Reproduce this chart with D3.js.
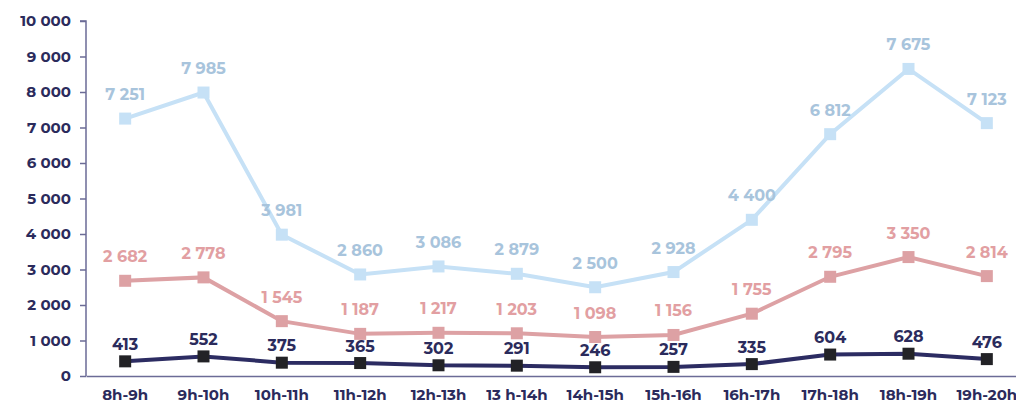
<!DOCTYPE html>
<html>
<head>
<meta charset="utf-8">
<script src="https://cdn.jsdelivr.net/npm/d3@7"></script>
<style>
  html, body { margin: 0; padding: 0; background: #fff; }
  svg text { font-family: Montserrat, "Open Sans", sans-serif; font-weight: 700; }
</style>
</head>
<body>
<div id="chart"></div>
<script>
const categories = ['8h-9h', '9h-10h', '10h-11h', '11h-12h', '12h-13h', '13 h-14h',
  '14h-15h', '15h-16h', '16h-17h', '17h-18h', '18h-19h', '19h-20h'];
const yTicks = [0, 1000, 2000, 3000, 4000, 5000, 6000, 7000, 8000, 9000, 10000];

// plotted values (the 18h-19h point sits near 8 650 while its label reads 7 675)
const lightValues = [7251, 7985, 3981, 2860, 3086, 2879, 2500, 2928, 4400, 6812, 8650, 7123];
const lightLabels = [7251, 7985, 3981, 2860, 3086, 2879, 2500, 2928, 4400, 6812, 7675, 7123];
const redValues = [2682, 2778, 1545, 1187, 1217, 1203, 1098, 1156, 1755, 2795, 3350, 2814];
const darkValues = [413, 552, 375, 365, 302, 291, 246, 257, 335, 604, 628, 476];

const width = 1016, height = 403;
const margin = { top: 21, left: 86, bottom: 27 };

const fmt = v => d3.format(',')(v).replace(/,/g, ' ');

const svg = d3.select('#chart').append('svg')
  .attr('width', width)
  .attr('height', height);

const x = d3.scaleBand()
  .domain(categories)
  .range([margin.left, 1026]);

const y = d3.scaleLinear()
  .domain([0, 10000])
  .range([height - margin.bottom, margin.top]);

const axisColor = '#6b6b96';
const navy = '#2b2b5c';

// y axis
const yAxis = svg.append('g')
  .attr('transform', `translate(${margin.left},0)`)
  .call(d3.axisLeft(y).tickValues(yTicks).tickSize(6).tickPadding(9).tickFormat(fmt));
yAxis.select('.domain').attr('stroke', axisColor).attr('stroke-width', 1.5)
  .attr('d', `M-6,${y(10000)}H0V${y(0)}`);
yAxis.selectAll('.tick line').attr('stroke', axisColor).attr('stroke-width', 1.5);
yAxis.selectAll('.tick text').attr('fill', navy).style('font-size', '15px');

// x axis
const xAxis = svg.append('g')
  .attr('transform', `translate(0,${y(0)})`)
  .call(d3.axisBottom(x).tickSize(0).tickPadding(13));
xAxis.select('.domain').attr('stroke', axisColor).attr('stroke-width', 1.5);
xAxis.selectAll('.tick text').attr('fill', navy).style('font-size', '15px');

const series = [
  { values: lightValues, labels: lightLabels, line: '#c6e1f6', marker: '#c6e1f6', text: '#a8c4dc', dy: -24 },
  { values: redValues, labels: redValues, line: '#dda1a4', marker: '#dda1a4', text: '#e29fa2', dy: -24 },
  { values: darkValues, labels: darkValues, line: '#2c2c62', marker: '#222226', text: '#2b2b5c', dy: -17 }
];

const cx = d => x(d.cat) + x.bandwidth() / 2;

series.forEach(s => {
  const pts = categories.map((c, i) => ({ cat: c, v: s.values[i], label: s.labels[i] }));
  const g = svg.append('g');

  g.append('path')
    .datum(pts)
    .attr('fill', 'none')
    .attr('stroke', s.line)
    .attr('stroke-width', 4)
    .attr('d', d3.line().x(cx).y(d => y(d.v)));

  g.selectAll('rect')
    .data(pts)
    .join('rect')
    .attr('x', d => cx(d) - 6)
    .attr('y', d => y(d.v) - 6)
    .attr('width', 12)
    .attr('height', 12)
    .attr('fill', s.marker);

  g.selectAll('text')
    .data(pts)
    .join('text')
    .attr('x', cx)
    .attr('y', d => y(d.v) + s.dy)
    .attr('text-anchor', 'middle')
    .attr('dominant-baseline', 'central')
    .attr('fill', s.text)
    .style('font-size', '16px')
    .text(d => fmt(d.label));
});
</script>
</body>
</html>
